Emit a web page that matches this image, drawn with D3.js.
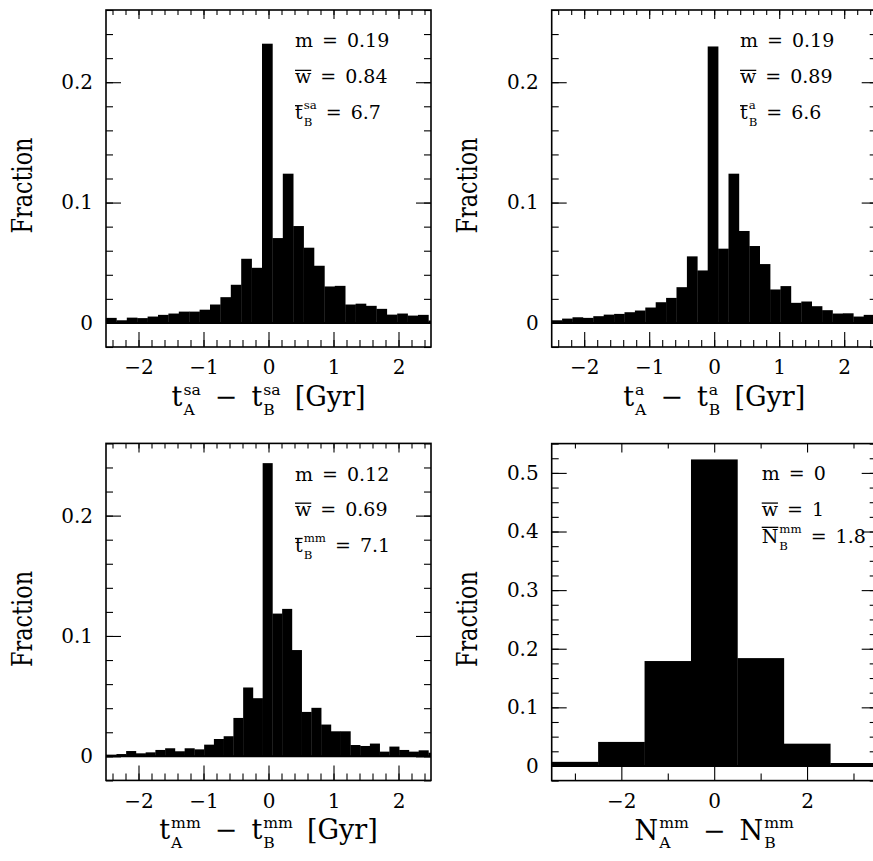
<!DOCTYPE html>
<html>
<head>
<meta charset="utf-8">
<script src="https://cdn.jsdelivr.net/npm/d3@7"></script>
<style>
  body { margin: 0; background: #fff; }
  svg { display: block; }
  text { font-family: "DejaVu Serif", "Liberation Serif", "Noto Serif", "Times New Roman", serif; fill: #000; }
  .tick line { stroke: #000; stroke-width: 1.1; }
  .tick text { font-size: 20px; font-family: "DejaVu Serif", "Liberation Serif", serif; }
</style>
</head>
<body>
<svg id="chart"></svg>
<script>
// histogram bins (left edges, data units) and fractions
let binsSa = d3.range(32).map(i => -2.5 + i * 0.16);
let fracSa = [0.0042, 0.0022, 0.0044, 0.0040, 0.0053, 0.0067, 0.0078, 0.0094,
              0.0094, 0.0110, 0.0153, 0.0214, 0.0317, 0.0533, 0.0458, 0.2320,
              0.0705, 0.1240, 0.0805, 0.0625, 0.0475, 0.0303, 0.0308, 0.0153,
              0.0160, 0.0142, 0.0117, 0.0069, 0.0078, 0.0061, 0.0067, 0.0020];

let binsA = d3.range(32).map(i => -2.5 + i * 0.16);
let fracA = [0.0022, 0.0036, 0.0047, 0.0042, 0.0056, 0.0069, 0.0075, 0.0089,
             0.0103, 0.0128, 0.0172, 0.0208, 0.0297, 0.0553, 0.0436, 0.2297,
             0.0617, 0.1240, 0.0764, 0.0639, 0.0489, 0.0278, 0.0306, 0.0167,
             0.0178, 0.0139, 0.0106, 0.0078, 0.0080, 0.0053, 0.0067, 0.0060];

let binsMm = d3.range(35).map(i => -2.64 + i * 0.15);
let fracMm = [0.0014, 0.0014, 0.0019, 0.0044, 0.0025, 0.0033, 0.0053, 0.0067,
              0.0042, 0.0067, 0.0058, 0.0097, 0.0144, 0.0167, 0.0319, 0.0572,
              0.0483, 0.2436, 0.1186, 0.1225, 0.0883, 0.0369, 0.0403, 0.0264,
              0.0208, 0.0208, 0.0094, 0.0086, 0.0106, 0.0039, 0.0081, 0.0053,
              0.0039, 0.0050, 0.0030];

let binsN = [-3.5, -2.5, -1.5, -0.5, 0.5, 1.5, 2.5];
let fracN = [0.007, 0.041, 0.179, 0.523, 0.184, 0.038, 0.005];

// tick values
let tMajorX = [-2, -1, 0, 1, 2];
let tMinorX = d3.range(-24, 25, 2).map(d => d / 10);
let tMajorY = [0, 0.1, 0.2];
let tMinorY = d3.range(-1, 14).map(d => d / 50);
let nMajorX = [-2, 0, 2];
let nMinorX = [-3, -1, 1, 3];
let nMajorY = [0, 0.1, 0.2, 0.3, 0.4, 0.5];
let nMinorY = d3.range(-1, 23).map(d => d / 40);

// statistics printed in each panel
let statsSa = ['0.19', '0.84', '6.7'];
let statsA = ['0.19', '0.89', '6.6'];
let statsMm = ['0.12', '0.69', '7.1'];
let statsN = ['0', '1', '1.8'];

let w = 873, h = 861;
let W = 325, H = 337;

let svg = d3.select('#chart')
    .attr('width', w)
    .attr('height', h);

let panels = [
    {left: 106, top: 10, bins: binsSa, vals: fracSa, bw: 0.16, xd: [-2.5, 2.5], yd: [-0.02, 0.26],
     xMaj: tMajorX, xMin: tMinorX, yMaj: tMajorY, yMin: tMinorY,
     stats: statsSa, qty: 't', sup: 'sa', unit: true, sx: 189, sy: [37.3, 73.3, 109]},
    {left: 551.7, top: 10, bins: binsA, vals: fracA, bw: 0.16, xd: [-2.5, 2.5], yd: [-0.02, 0.26],
     xMaj: tMajorX, xMin: tMinorX, yMaj: tMajorY, yMin: tMinorY,
     stats: statsA, qty: 't', sup: 'a', unit: true, sx: 188.3, sy: [37.3, 73.3, 109]},
    {left: 106, top: 443.4, bins: binsMm, vals: fracMm, bw: 0.15, xd: [-2.5, 2.5], yd: [-0.02, 0.26],
     xMaj: tMajorX, xMin: tMinorX, yMaj: tMajorY, yMin: tMinorY,
     stats: statsMm, qty: 't', sup: 'mm', unit: true, sx: 189, sy: [37.3, 72.7, 108.4]},
    {left: 551.7, top: 443.6, bins: binsN, vals: fracN, bw: 1, xd: [-3.5, 3.5], yd: [-0.025, 0.55],
     xMaj: nMajorX, xMin: nMinorX, yMaj: nMajorY, yMin: nMinorY,
     stats: statsN, qty: 'N', sup: 'mm', unit: false, sx: 210, sy: [36.4, 72.4, 99.7]}
];

// draws main text with optional stacked sup/sub and overline, part after part
function rich(g, parts, fs, gap, sc, up, down) {
    let x = 0;
    let ss = fs * sc;
    parts.forEach((p, i) => {
        if (i > 0) x += gap;
        let t = g.append('text')
            .attr('x', x)
            .attr('y', 0)
            .style('font-size', fs + 'px')
            .text(p.t);
        let tw = t.node().getComputedTextLength();
        if (p.over) {
            g.append('line')
                .attr('x1', x).attr('x2', x + tw)
                .attr('y1', -p.over * fs).attr('y2', -p.over * fs)
                .attr('stroke', '#000')
                .attr('stroke-width', 1.3);
        }
        x += tw;
        if (p.sup || p.sub) {
            let sw = 0;
            if (p.sup) {
                let s = g.append('text')
                    .attr('x', x + 1)
                    .attr('y', -up * fs)
                    .style('font-size', ss + 'px')
                    .text(p.sup);
                sw = Math.max(sw, s.node().getComputedTextLength());
            }
            if (p.sub) {
                let s = g.append('text')
                    .attr('x', x + 1)
                    .attr('y', down * fs)
                    .style('font-size', ss + 'px')
                    .text(p.sub);
                sw = Math.max(sw, s.node().getComputedTextLength());
            }
            x += sw + 1;
        }
    });
    return x;
}

panels.forEach((p, k) => {
    let x = d3.scaleLinear().domain(p.xd).range([0, W]);
    let y = d3.scaleLinear().domain(p.yd).range([H, 0]);

    let g = svg.append('g')
        .attr('transform', `translate(${p.left}, ${p.top})`);

    g.append('clipPath')
        .attr('id', 'clip' + k)
        .append('rect')
        .attr('width', W)
        .attr('height', H);

    // histogram bars
    g.append('g')
        .attr('clip-path', `url(#clip${k})`)
        .selectAll('rect')
        .data(p.vals)
        .enter()
        .append('rect')
        .attr('x', (d, i) => x(p.bins[i]))
        .attr('width', (d, i) => x(p.bins[i] + p.bw) - x(p.bins[i]) + 0.3)
        .attr('y', d => y(d))
        .attr('height', d => y(0) - y(d))
        .attr('fill', '#000');

    // zero line
    g.append('line')
        .attr('x1', 0).attr('x2', W)
        .attr('y1', y(0)).attr('y2', y(0))
        .attr('stroke', '#000')
        .attr('stroke-width', 2);

    // ticks on all four sides, minor then major
    let sides = [
        [d3.axisBottom, x, `translate(0, ${H})`, p.xMin, p.xMaj, 7, 15, true],
        [d3.axisTop, x, 'translate(0, 0)', p.xMin, p.xMaj, 5, 9, false],
        [d3.axisLeft, y, 'translate(0, 0)', p.yMin, p.yMaj, 7, 15, true],
        [d3.axisRight, y, `translate(${W}, 0)`, p.yMin, p.yMaj, 7, 15, false]
    ];
    sides.forEach(s => {
        g.append('g')
            .attr('transform', s[2])
            .call(s[0](s[1]).tickValues(s[3]).tickSize(-s[5]).tickFormat(''))
            .call(a => a.select('.domain').remove());
        g.append('g')
            .attr('transform', s[2])
            .call(s[0](s[1]).tickValues(s[4]).tickSize(-s[6]).tickPadding(13)
                .tickFormat(s[7] ? d3.format('') : ''))
            .call(a => a.select('.domain').remove())
            .attr('font-family', null)
            .attr('font-size', null);
    });

    g.append('rect')
        .attr('width', W)
        .attr('height', H)
        .attr('fill', 'none')
        .attr('stroke', '#000')
        .attr('stroke-width', 1.6);

    // y label
    g.append('text')
        .attr('transform', `translate(-74.5, ${H / 2 + 7}) rotate(-90)`)
        .attr('text-anchor', 'middle')
        .attr('textLength', 96)
        .attr('lengthAdjust', 'spacingAndGlyphs')
        .style('font-size', '28px')
        .text('Fraction');

    // x title, centred under the panel
    let tg = g.append('g');
    let parts = [
        {t: p.qty, sup: p.sup, sub: 'A'},
        {t: '\u2212'},
        {t: p.qty, sup: p.sup, sub: 'B'}
    ];
    if (p.unit) parts.push({t: '[Gyr]'});
    let tw = rich(tg, parts, 27, 14, 0.58, 0.42, 0.32);
    tg.attr('transform', `translate(${W / 2 - tw / 2}, ${H + 59})`);

    // statistics
    let lines = [
        [{t: 'm'}, {t: '='}, {t: p.stats[0]}],
        [{t: 'w', over: 0.68}, {t: '='}, {t: p.stats[1]}],
        [{t: p.qty, over: p.qty === 'N' ? 0.84 : 0.7, sup: p.sup, sub: 'B'}, {t: '='}, {t: p.stats[2]}]
    ];
    lines.forEach((l, i) => {
        let lg = g.append('g')
            .attr('transform', `translate(${p.sx}, ${p.sy[i]})`);
        rich(lg, l, 19, 9, 0.62, 0.52, 0.36);
    });
});
</script>
</body>
</html>
